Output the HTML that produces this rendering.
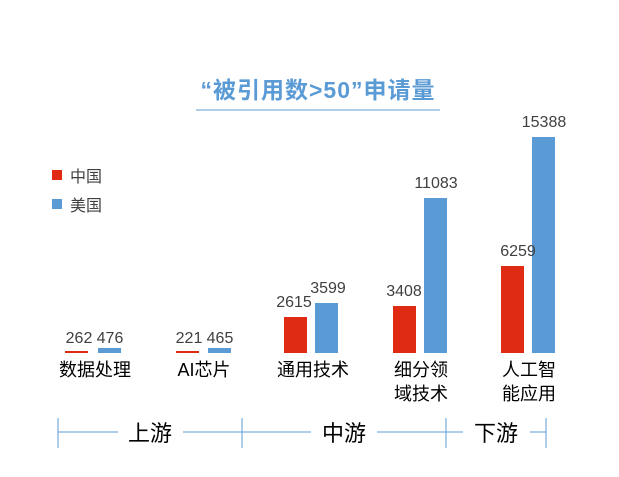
<!DOCTYPE html>
<html><head><meta charset="utf-8"><style>
body{margin:0;background:#fff;}
svg text{font-family:"Liberation Sans","Noto Sans CJK SC",sans-serif;}
</style></head><body>
<svg width="619" height="472" viewBox="0 0 619 472" xmlns="http://www.w3.org/2000/svg">
<text x="318" y="98" text-anchor="middle" font-size="23" font-weight="bold" fill="#5b9bd5" letter-spacing="1">“被引用数&gt;50”申请量</text>
<line x1="196" y1="110" x2="440" y2="110" stroke="#5b9bd5" stroke-width="1"/>
<rect x="52" y="170" width="10" height="10" fill="#e02b14"/>
<text x="70" y="182" font-size="16" fill="#404040">中国</text>
<rect x="52" y="199" width="10" height="10" fill="#5b9bd5"/>
<text x="70" y="211" font-size="16" fill="#404040">美国</text>
<g fill="#e02b14">
<rect x="65" y="351" width="23" height="2"/>
<rect x="176" y="351" width="23" height="2"/>
<rect x="284" y="317" width="23" height="36"/>
<rect x="393" y="306" width="23" height="47"/>
<rect x="501" y="266" width="23" height="87"/>
</g>
<g fill="#5b9bd5">
<rect x="98" y="348" width="23" height="5"/>
<rect x="208" y="348" width="23" height="5"/>
<rect x="315" y="303" width="23" height="50"/>
<rect x="424" y="198" width="23" height="155"/>
<rect x="532" y="137" width="23" height="216"/>
</g>
<g font-size="16" fill="#404040" text-anchor="middle">
<text x="79" y="343">262</text><text x="110" y="343">476</text>
<text x="189" y="343">221</text><text x="220" y="343">465</text>
<text x="294" y="307">2615</text><text x="328" y="293">3599</text>
<text x="404" y="296">3408</text><text x="436" y="188">11083</text>
<text x="518" y="256">6259</text><text x="544" y="127">15388</text>
</g>
<g font-size="18" fill="#000" text-anchor="middle">
<text x="95" y="376">数据处理</text>
<text x="204" y="376">AI芯片</text>
<text x="313" y="376">通用技术</text>
<text x="421" y="376">细分领</text><text x="421" y="400">域技术</text>
<text x="529" y="376">人工智</text><text x="529" y="400">能应用</text>
</g>
<g stroke="#5b9bd5" stroke-width="1">
<line x1="58" y1="418" x2="58" y2="448"/>
<line x1="242" y1="418" x2="242" y2="448"/>
<line x1="446" y1="418" x2="446" y2="448"/>
<line x1="546" y1="418" x2="546" y2="448"/>
<line x1="58" y1="432" x2="118" y2="432"/><line x1="183" y1="432" x2="242" y2="432"/>
<line x1="242" y1="432" x2="311" y2="432"/><line x1="377" y1="432" x2="446" y2="432"/>
<line x1="446" y1="432" x2="463" y2="432"/><line x1="530" y1="432" x2="546" y2="432"/>
</g>
<g font-size="22" fill="#000" text-anchor="middle">
<text x="150" y="441">上游</text>
<text x="344" y="441">中游</text>
<text x="496" y="441">下游</text>
</g>
</svg>
</body></html>
